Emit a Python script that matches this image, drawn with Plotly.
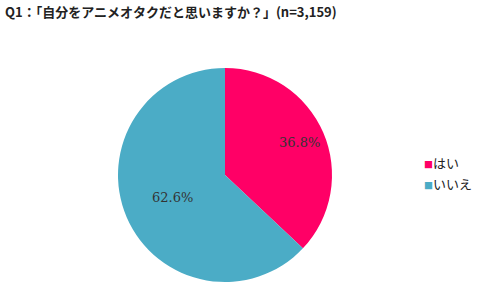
import math
import plotly.graph_objects as go

labels = ["はい", "いいえ"]
values = [36.8, 62.6]
text_labels = ["36.8%", "62.6%"]
colors = ["#FF0066", "#4BACC6"]
title = "Q1：「自分をアニメオタクだと思いますか？」(n=3,159)"

W, H = 485, 307
cx, cy, R = 225, 175, 107  # pixel geometry of the pie
fig = go.Figure(go.Pie(
    labels=labels, values=values, text=text_labels,
    textinfo="none",
    marker=dict(colors=colors, line=dict(width=0)),
    sort=False, direction="clockwise", rotation=0,
    domain=dict(x=[(cx-R)/W, (cx+R)/W], y=[(H-cy-R)/H, (H-cy+R)/H]),
    hoverinfo="label+text",
    showlegend=False,
))

# percentage labels on each slice bisector
total = sum(values)
cum = 0.0
for v, t in zip(values, text_labels):
    mid = (cum + v/2) / total * 2*math.pi
    cum += v
    px = cx + 0.76*R*math.sin(mid)
    py = cy - 0.76*R*math.cos(mid)
    fig.add_annotation(x=px/W, y=1-py/H, xref="paper", yref="paper", text=t,
                       showarrow=False,
                       font=dict(family="DejaVu Serif, serif", size=13, color="#333333"))

# compact legend
lx, ly0, dy = 422, 162, 21
for i, (lab, col) in enumerate(zip(labels, colors)):
    fig.add_annotation(
        x=lx/W, y=1-(ly0+i*dy)/H, xref="paper", yref="paper",
        xanchor="left", yanchor="middle", showarrow=False,
        text=f'<span style="color:{col};font-size:9px">■</span>{lab}',
        font=dict(family="Noto Sans CJK JP", size=13, color="#222222"))

fig.update_layout(
    width=W, height=H,
    margin=dict(l=0, r=0, t=0, b=0, autoexpand=False),
    paper_bgcolor="white",
    title=dict(text=title, x=5/W, xanchor="left", y=1-12/H, yanchor="middle",
               font=dict(family="Noto Sans CJK JP", size=13, color="#222222", weight="bold")),
    showlegend=False,
)
fig.write_html("out.html")
